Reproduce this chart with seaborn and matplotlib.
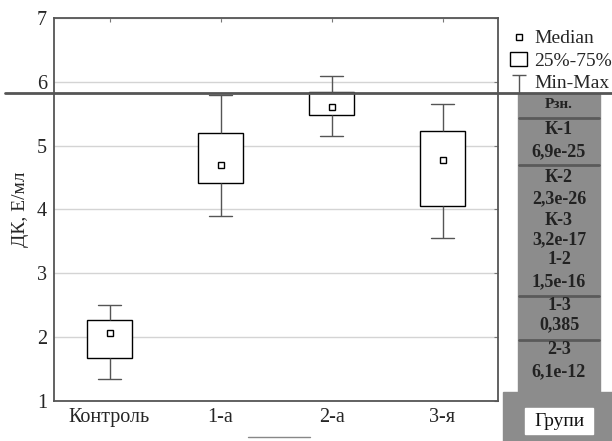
import numpy as np
import pandas as pd
import seaborn as sns
import matplotlib.pyplot as plt
from matplotlib.lines import Line2D
from matplotlib.patches import Patch, Rectangle
from matplotlib.path import Path

# Дані: мін, Q1, медіана, Q3, макс для кожної групи
groups = ["Контроль", "1-а", "2-а", "3-я"]
mins = [1.35, 3.90, 5.15, 3.55]
q1 = [1.67, 4.42, 5.48, 4.06]
medians = [2.06, 4.70, 5.61, 4.78]
q3 = [2.27, 5.20, 5.84, 5.23]
maxs = [2.50, 5.80, 6.09, 5.65]

# Таблиця з p-значеннями
pairs = ["К-1", "К-2", "К-3", "1-2", "1-3", "2-3"]
pvals = ["6,9e-25", "2,3e-26", "3,2e-17", "1,5e-16", "0,385", "6,1e-12"]

rows = []
for g, a, b, c, d, e in zip(groups, mins, q1, medians, q3, maxs):
    for v in (a, b, c, d, e):
        rows.append({"group": g, "value": v})
df = pd.DataFrame(rows)
df_med = pd.DataFrame({"group": groups, "value": medians})

sns.set_style("white")
plt.rcParams["font.family"] = ["Liberation Serif", "DejaVu Serif"]

fig = plt.figure(figsize=(6.12, 4.41), dpi=100)
ax = fig.add_axes([54 / 612, 1 - 401 / 441, 444 / 612, 383 / 441])

sns.boxplot(data=df, x="group", y="value", order=groups, whis=(0, 100),
            width=0.4, color="white", linecolor="black", linewidth=1,
            medianprops={"visible": False},
            whiskerprops={"color": "#555555"}, capprops={"color": "#555555"},
            ax=ax)
sns.pointplot(data=df_med, x="group", y="value", order=groups,
              linestyle="none", marker="s", markersize=5, errorbar=None,
              markerfacecolor="white", markeredgecolor="black",
              markeredgewidth=1, ax=ax)

ax.set_ylim(1, 7)
ax.set_xlim(-0.5, 3.5)
ax.set_yticks(range(1, 8))
ax.yaxis.grid(True, color="#d4d4d4", linewidth=1)
ax.set_axisbelow(True)
ax.set_xlabel("")
ax.set_ylabel("ДК, Е/мл", fontsize=14, labelpad=6)
ax.tick_params(direction="in", length=3, width=0.8, color="#777777",
               labelsize=14.5, top=True, right=True, pad=5)
for s in ax.spines.values():
    s.set_color("#555555")
    s.set_linewidth(1.3)

# Горизонтальна лінія через усю фігуру
fig.add_artist(Line2D([5 / 612, 1], [1 - 93 / 441] * 2, color="#555555", lw=2))
fig.add_artist(Line2D([248 / 612, 310 / 612], [1 - 437 / 441] * 2, color="#888888", lw=1))

# Сіра панель з таблицею
fig.add_artist(Rectangle((518 / 612, 1 - 398 / 441), 82 / 612, 304 / 441,
                         transform=fig.transFigure, color="#8c8c8c", zorder=0))
fig.add_artist(Rectangle((503 / 612, 0), 109 / 612, 1 - 392 / 441,
                         transform=fig.transFigure, color="#8c8c8c", zorder=0))
fig.add_artist(Rectangle((525 / 612, 1 - 434 / 441), 68 / 612, 26 / 441,
                         transform=fig.transFigure, color="white", zorder=1))
for yy in [118, 165, 296, 340]:
    fig.add_artist(Line2D([519 / 612, 599 / 612], [1 - yy / 441] * 2, color="#5a5a5a", lw=2))

cx = 559 / 612
fig.text(cx, 1 - 105 / 441, "Рзн.", ha="center", va="center", fontsize=11,
         fontweight="bold", color="#222222")
ys = [(130, 152), (178, 199), (220, 240), (260, 282), (306, 325), (350, 372)]
for (ya, yb), p, v in zip(ys, pairs, pvals):
    fig.text(cx, 1 - ya / 441, p, ha="center", va="center", fontsize=13,
             fontweight="bold", color="#222222")
    fig.text(cx, 1 - yb / 441, v, ha="center", va="center", fontsize=13,
             fontweight="bold", color="#222222")
fig.text(cx, 1 - 421 / 441, "Групи", ha="center", va="center", fontsize=14, color="#111111")

# Легенда
tee = Path([(-1, 1), (1, 1), (0, 1), (0, -1.6)],
           [Path.MOVETO, Path.LINETO, Path.MOVETO, Path.LINETO])
handles = [
    Line2D([], [], marker="s", ls="none", mfc="white", mec="black", ms=5, mew=1),
    Patch(facecolor="white", edgecolor="black", linewidth=1),
    Line2D([], [], marker=tee, ls="none", mfc="none", mec="#555555", ms=16, mew=1),
]
fig.legend(handles, ["Median", "25%-75%", "Min-Max"], loc="upper left",
           bbox_to_anchor=(502 / 612, 1 - 22 / 441), frameon=False, fontsize=14,
           handlelength=0.9, handletextpad=0.35, labelspacing=0.25, borderaxespad=0)

plt.savefig("out.png", dpi=100)
